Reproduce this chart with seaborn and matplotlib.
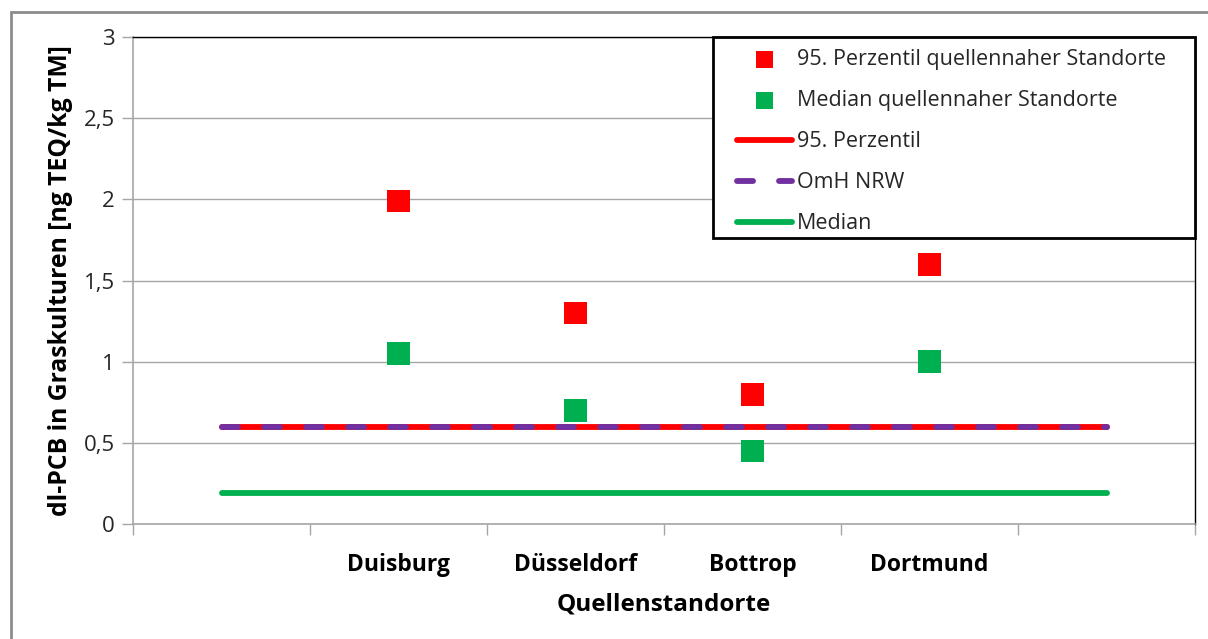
import matplotlib
matplotlib.use("Agg")
import matplotlib.pyplot as plt
from matplotlib.patches import Rectangle
from matplotlib.ticker import FixedLocator, FuncFormatter
import seaborn as sns
import pandas as pd

# Categories (outer slots are empty so the reference lines extend past the sites)
categories = ["", "Duisburg", "Düsseldorf", "Bottrop", "Dortmund", ""]
sites = ["Duisburg", "Düsseldorf", "Bottrop", "Dortmund"]
p95_sites = [1.99, 1.30, 0.80, 1.60]
median_sites = [1.05, 0.70, 0.45, 1.00]

# Reference levels
p95_level = 0.60
omh_level = 0.60
median_level = 0.19

y_ticks = [0, 0.5, 1, 1.5, 2, 2.5, 3]

sns.set_theme(style="white")
plt.rcParams["font.family"] = ["Open Sans", "DejaVu Sans"]

W, H = 1208, 639
fig = plt.figure(figsize=(W / 100, H / 100), dpi=100)
ax_l, ax_r, ax_t, ax_b = 133, 1195, 37, 524
ax = fig.add_axes([ax_l / W, 1 - ax_b / H, (ax_r - ax_l) / W, (ax_b - ax_t) / H])

pos = {c: i for i, c in enumerate(categories)}
x_all = list(range(len(categories)))

RED = "#FF0000"
GREEN = "#00B050"
PURPLE = "#7030A0"
LW = 4.2

ax.grid(axis="y", color="#A6A6A6", linewidth=1.0, zorder=0)
ax.set_axisbelow(True)

lines_df = pd.DataFrame({
    "x": x_all * 3,
    "y": [p95_level] * 6 + [omh_level] * 6 + [median_level] * 6,
    "series": ["95. Perzentil"] * 6 + ["OmH NRW"] * 6 + ["Median"] * 6,
})

sns.lineplot(data=lines_df[lines_df.series == "95. Perzentil"], x="x", y="y",
             color=RED, linewidth=LW, ax=ax, label="95. Perzentil",
             solid_capstyle="round", zorder=3)
sns.lineplot(data=lines_df[lines_df.series == "OmH NRW"], x="x", y="y",
             color=PURPLE, linewidth=LW, ax=ax, label="OmH NRW",
             zorder=4)
sns.lineplot(data=lines_df[lines_df.series == "Median"], x="x", y="y",
             color=GREEN, linewidth=LW, ax=ax, label="Median",
             solid_capstyle="round", zorder=3)
omh_line = ax.lines[1]
omh_line.set_dashes((2.75, 4.45))
omh_line.set_dash_capstyle("round")

pts_df = pd.DataFrame({"x": [pos[s] for s in sites], "p95": p95_sites, "med": median_sites})
sns.scatterplot(data=pts_df, x="x", y="p95", marker="s", s=270, color=RED,
                edgecolor="none", ax=ax, label="95. Perzentil quellennaher Standorte", zorder=5)
sns.scatterplot(data=pts_df, x="x", y="med", marker="s", s=270, color=GREEN,
                edgecolor="none", ax=ax, label="Median quellennaher Standorte", zorder=5)

ax.set_xlim(-0.5, len(categories) - 0.5)
ax.set_ylim(0, 3)
ax.yaxis.set_major_locator(FixedLocator(y_ticks))
ax.yaxis.set_major_formatter(FuncFormatter(lambda v, p: f"{v:g}".replace(".", ",")))

ax.set_xticks(x_all)
ax.set_xticklabels(categories, fontsize=16.5, fontweight="bold", color="black")
ax.set_xticks([i + 0.5 for i in range(-1, len(categories))], minor=True)
ax.tick_params(axis="x", which="major", length=0, pad=21)
ax.tick_params(axis="x", which="minor", length=8, width=1, color="#A6A6A6", direction="out", bottom=True)
ax.tick_params(axis="y", which="major", length=8, width=1, color="#A6A6A6", direction="out",
               left=True, labelsize=16, labelcolor="#262626", pad=5)

ax.set_xlabel("Quellenstandorte", fontsize=17.5, fontweight="bold", labelpad=11, color="black")
ax.set_ylabel("dl-PCB in Graskulturen [ng TEQ/kg TM]", fontsize=17.8, fontweight="bold",
              labelpad=8, color="black")

for side in ["left", "bottom"]:
    ax.spines[side].set_color("#A6A6A6")
    ax.spines[side].set_linewidth(1.2)
for side in ["top", "right"]:
    ax.spines[side].set_color("black")
    ax.spines[side].set_linewidth(1.0)

# Legend box: white panel with black frame in the upper right corner
def ax_x(px):
    return (px - ax_l) / (ax_r - ax_l)

def ax_y(py):
    return (ax_b - py) / (ax_b - ax_t)

frame = Rectangle((ax_x(713), ax_y(238)), 1 - ax_x(713), 1 - ax_y(238),
                  transform=ax.transAxes, facecolor="white", edgecolor="black",
                  linewidth=2.0, clip_on=False, zorder=6)
ax.add_patch(frame)

handles, labels = ax.get_legend_handles_labels()
order = ["95. Perzentil quellennaher Standorte", "Median quellennaher Standorte",
         "95. Perzentil", "OmH NRW", "Median"]
hmap = dict(zip(labels, handles))
leg = ax.legend([hmap[k] for k in order], order, loc="upper left",
                bbox_to_anchor=(ax_x(737), ax_y(49)), borderaxespad=0, borderpad=0,
                frameon=False, fontsize=15.5,
                handlelength=2.55, handletextpad=0.22, labelspacing=0.93,
                markerscale=0.75)
leg.set_zorder(7)

# Outer chart frame
fig.patches.append(Rectangle((11 / W, -0.1), 1.2, (H - 12) / H + 0.1,
                             transform=fig.transFigure, fill=False,
                             edgecolor="#8C8C8C", linewidth=2.0))

fig.savefig("out.png", dpi=100)
